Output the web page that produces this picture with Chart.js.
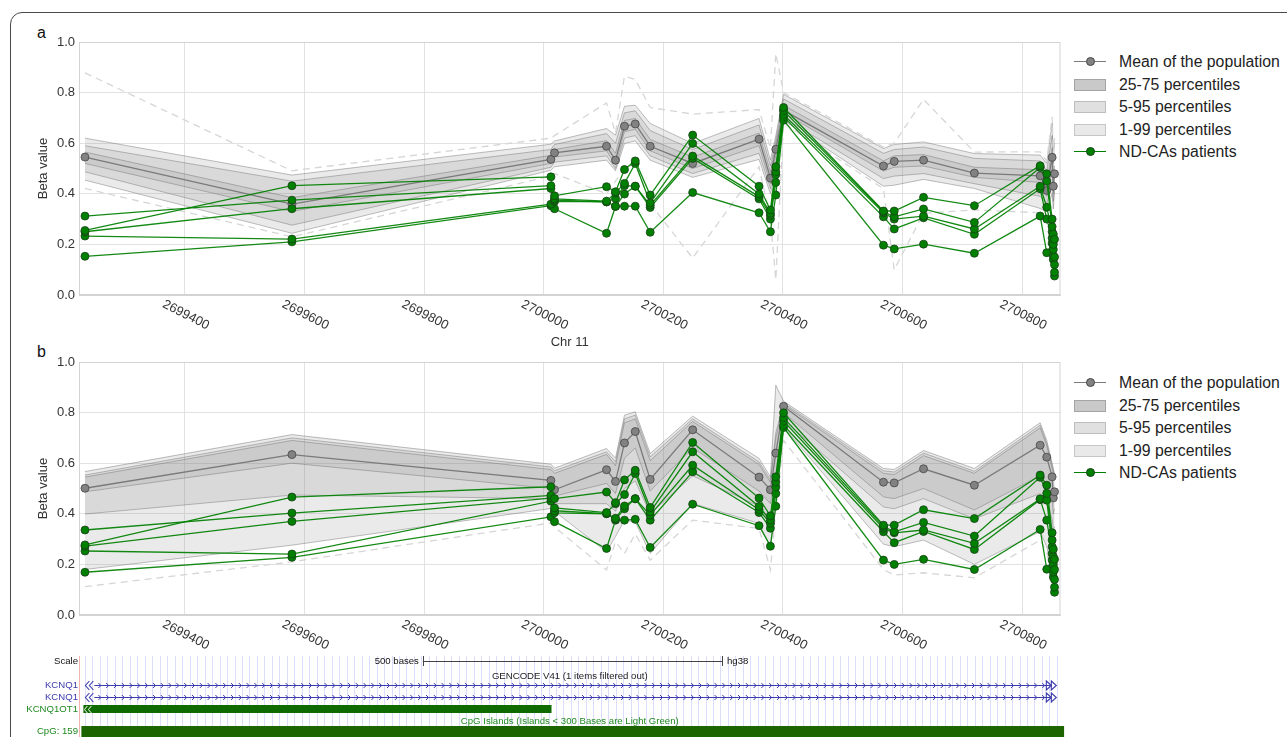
<!DOCTYPE html>
<html>
<head>
<meta charset="utf-8">
<title>KCNQ1OT1 methylation</title>
<script src="https://cdn.jsdelivr.net/npm/chart.js@4.4.1/dist/chart.umd.min.js"></script>
<style>
  body { margin: 0; background: #fff; font-family: "Liberation Sans", Arial, sans-serif; }
  #page { position: relative; width: 1287px; height: 737px; overflow: hidden; background: #fff; }
  .frame { position: absolute; left: 10px; top: 12px; width: 1400px; height: 800px;
           border: 1px solid #4a4a4a; border-radius: 12px; }
  .tag { position: absolute; left: 37px; font-size: 16px; line-height: 16px; color: #111; }
  canvas { position: absolute; left: 0; }
  .legend { position: absolute; left: 1074px; width: 213px; font-size: 15.8px; color: #222; }
  .row { position: absolute; left: 0; height: 22px; width: 213px; white-space: nowrap; }
  .row .lbl { position: absolute; left: 45px; top: 0; line-height: 22px; }
  .row .ln { position: absolute; left: 0; top: 10px; width: 32px; height: 0; border-top: 1.3px solid; }
  .row .dot { position: absolute; left: 12px; top: 6px; width: 7px; height: 7px; border-radius: 50%; border: 1px solid; }
  .row .box { position: absolute; left: 0; top: 5px; width: 30px; height: 10px; border: 1px solid; }
</style>
</head>
<body>
<div id="page">
  <div class="frame"></div>
  <div class="tag" style="top:25px">a</div>
  <div class="tag" style="top:344px">b</div>
  <canvas id="chartA" width="1066" height="320" style="top:30px"></canvas>
  <canvas id="chartB" width="1066" height="387" style="top:350px"></canvas>
  <div class="legend" id="legendA" style="top:51px"></div>
  <div class="legend" id="legendB" style="top:372px"></div>
</div>
<script>
// CpG positions on chromosome 11 (bp)
const cpgPos = [2699233, 2699579, 2700012, 2700018, 2700105, 2700120, 2700135, 2700153, 2700178, 2700249,
  2700360, 2700379, 2700388, 2700401, 2700568, 2700586, 2700635, 2700720, 2700830, 2700841,
  2700850, 2700852, 2700854];
const xTicks = [2699400, 2699600, 2699800, 2700000, 2700200, 2700400, 2700600, 2700800];
const xMin = 2699223;
const xMax = 2700864;

// panel a: population summary
const meanA = [0.545, 0.359, 0.536, 0.562, 0.588, 0.533, 0.667, 0.676, 0.588, 0.52, 0.616, 0.462, 0.576, 0.73, 0.51, 0.528, 0.533, 0.482, 0.471, 0.413, 0.544, 0.43, 0.479];
const p99A = [0.62, 0.474, 0.596, 0.609, 0.658, 0.632, 0.746, 0.75, 0.678, 0.599, 0.698, 0.533, 0.63, 0.793, 0.579, 0.595, 0.605, 0.559, 0.553, 0.52, 0.68, 0.55, 0.6];
const p95A = [0.59, 0.45, 0.575, 0.595, 0.638, 0.6, 0.72, 0.728, 0.65, 0.575, 0.672, 0.51, 0.612, 0.775, 0.56, 0.575, 0.585, 0.54, 0.53, 0.49, 0.63, 0.52, 0.56];
const p75A = [0.565, 0.385, 0.552, 0.575, 0.61, 0.56, 0.69, 0.698, 0.615, 0.545, 0.64, 0.485, 0.595, 0.75, 0.53, 0.55, 0.555, 0.505, 0.495, 0.44, 0.58, 0.46, 0.51];
const p25A = [0.52, 0.33, 0.52, 0.545, 0.57, 0.515, 0.645, 0.655, 0.57, 0.5, 0.59, 0.44, 0.55, 0.72, 0.49, 0.505, 0.51, 0.465, 0.445, 0.39, 0.5, 0.4, 0.45];
const p5A = [0.487, 0.276, 0.505, 0.525, 0.55, 0.5, 0.62, 0.63, 0.55, 0.48, 0.56, 0.42, 0.52, 0.70, 0.46, 0.47, 0.48, 0.44, 0.39, 0.36, 0.44, 0.37, 0.43];
const p1A = [0.454, 0.244, 0.493, 0.507, 0.533, 0.491, 0.599, 0.609, 0.533, 0.465, 0.536, 0.4, 0.49, 0.69, 0.43, 0.434, 0.457, 0.421, 0.342, 0.33, 0.4, 0.34, 0.41];
const maxA = [0.878, 0.491, 0.62, 0.63, 0.759, 0.64, 0.865, 0.852, 0.741, 0.715, 0.733, 0.58, 0.955, 0.8, 0.585, 0.6, 0.773, 0.565, 0.566, 0.53, 0.704, 0.56, 0.62];
const minA = [0.421, 0.23, 0.47, 0.48, 0.40, 0.45, 0.5, 0.52, 0.36, 0.146, 0.507, 0.3, 0.06, 0.68, 0.42, 0.1, 0.323, 0.336, 0.325, 0.3, 0.25, 0.2, 0.3];

// panel a: ND-CAs patients
const patA1 = [0.255, 0.432, 0.467, 0.392, 0.428, 0.408, 0.496, 0.53, 0.395, 0.632, 0.43, 0.336, 0.507, 0.741, 0.332, 0.332, 0.386, 0.353, 0.511, 0.479, 0.3, 0.24, 0.22];
const patA2 = [0.312, 0.375, 0.432, 0.38, 0.371, 0.404, 0.441, 0.52, 0.364, 0.599, 0.399, 0.323, 0.487, 0.728, 0.33, 0.309, 0.34, 0.287, 0.504, 0.45, 0.27, 0.2, 0.15];
const patA3 = [0.25, 0.341, 0.421, 0.375, 0.368, 0.382, 0.432, 0.43, 0.355, 0.549, 0.389, 0.315, 0.476, 0.713, 0.325, 0.3, 0.312, 0.261, 0.43, 0.347, 0.25, 0.18, 0.12];
const patA4 = [0.233, 0.221, 0.359, 0.37, 0.368, 0.351, 0.399, 0.43, 0.346, 0.54, 0.38, 0.30, 0.445, 0.704, 0.309, 0.261, 0.305, 0.24, 0.42, 0.3, 0.225, 0.155, 0.09];
const patA5 = [0.153, 0.21, 0.353, 0.341, 0.244, 0.35, 0.351, 0.351, 0.248, 0.405, 0.325, 0.25, 0.395, 0.691, 0.197, 0.182, 0.201, 0.165, 0.312, 0.167, 0.205, 0.14, 0.075];

// panel b: population summary
const meanB = [0.501, 0.634, 0.532, 0.495, 0.574, 0.528, 0.68, 0.725, 0.536, 0.732, 0.545, 0.495, 0.64, 0.825, 0.525, 0.522, 0.578, 0.513, 0.671, 0.624, 0.546, 0.463, 0.487];
const p99B = [0.567, 0.713, 0.596, 0.58, 0.658, 0.62, 0.79, 0.803, 0.638, 0.786, 0.619, 0.546, 0.908, 0.845, 0.579, 0.575, 0.65, 0.579, 0.76, 0.69, 0.6, 0.58, 0.56];
const p95B = [0.553, 0.70, 0.585, 0.57, 0.645, 0.605, 0.775, 0.79, 0.625, 0.775, 0.605, 0.535, 0.72, 0.838, 0.57, 0.565, 0.64, 0.568, 0.75, 0.68, 0.59, 0.57, 0.55];
const p75B = [0.545, 0.69, 0.575, 0.56, 0.635, 0.59, 0.76, 0.775, 0.61, 0.765, 0.595, 0.525, 0.70, 0.832, 0.56, 0.555, 0.63, 0.56, 0.74, 0.67, 0.58, 0.56, 0.54];
const p25B = [0.487, 0.60, 0.50, 0.47, 0.52, 0.48, 0.62, 0.66, 0.49, 0.66, 0.49, 0.44, 0.55, 0.80, 0.467, 0.46, 0.50, 0.415, 0.55, 0.50, 0.45, 0.40, 0.42];
const p5B = [0.399, 0.474, 0.46, 0.44, 0.44, 0.41, 0.50, 0.53, 0.40, 0.55, 0.43, 0.36, 0.50, 0.77, 0.427, 0.42, 0.46, 0.38, 0.48, 0.44, 0.38, 0.33, 0.35];
const p1B = [0.18, 0.276, 0.421, 0.41, 0.25, 0.31, 0.375, 0.368, 0.243, 0.441, 0.362, 0.27, 0.454, 0.743, 0.28, 0.27, 0.296, 0.20, 0.33, 0.27, 0.17, 0.15, 0.15];
const minB = [0.112, 0.21, 0.364, 0.348, 0.178, 0.29, 0.243, 0.32, 0.217, 0.375, 0.342, 0.178, 0.42, 0.69, 0.18, 0.158, 0.167, 0.147, 0.296, 0.25, 0.14, 0.12, 0.12];

// panel b: ND-CAs patients
const patB1 = [0.277, 0.466, 0.507, 0.46, 0.486, 0.444, 0.534, 0.572, 0.425, 0.682, 0.462, 0.392, 0.546, 0.799, 0.355, 0.355, 0.416, 0.381, 0.553, 0.513, 0.325, 0.26, 0.22];
const patB2 = [0.336, 0.403, 0.473, 0.423, 0.405, 0.44, 0.476, 0.559, 0.408, 0.645, 0.429, 0.375, 0.526, 0.78, 0.35, 0.329, 0.366, 0.312, 0.544, 0.481, 0.296, 0.23, 0.18];
const patB3 = [0.272, 0.37, 0.462, 0.412, 0.401, 0.382, 0.431, 0.459, 0.395, 0.592, 0.416, 0.362, 0.506, 0.767, 0.342, 0.325, 0.336, 0.283, 0.459, 0.454, 0.27, 0.2, 0.14];
const patB4 = [0.253, 0.241, 0.45, 0.404, 0.40, 0.378, 0.42, 0.46, 0.375, 0.566, 0.405, 0.343, 0.48, 0.75, 0.329, 0.286, 0.33, 0.259, 0.456, 0.375, 0.243, 0.17, 0.11];
const patB5 = [0.169, 0.228, 0.388, 0.369, 0.263, 0.375, 0.375, 0.378, 0.267, 0.438, 0.353, 0.272, 0.43, 0.741, 0.217, 0.2, 0.22, 0.18, 0.338, 0.181, 0.217, 0.15, 0.09];

// genome browser tracks (bp)
const viewStart = 2699227;
const viewEnd = 2700867;
const scaleBar = [2699798, 2700298];
const kcnq1Span = [2699232, 2700857];
const kcnq1ot1Span = [2699246, 2700013];
const cpgIslandSpan = [2699227, 2700870];

const legendNames = ['Mean of the population', '25-75 percentiles', '5-95 percentiles', '1-99 percentiles', 'ND-CAs patients'];

const family = '"Liberation Sans", Arial, sans-serif';

const pts = vals => cpgPos.map((p, i) => ({x: p, y: vals[i]}));

function buildDatasets(s) {
  const ds = [];
  s.patients.forEach(v => ds.push({
    data: pts(v), borderColor: 'rgba(0,128,0,0.92)', borderWidth: 1.3,
    pointRadius: 4, pointBackgroundColor: '#008000', pointBorderColor: '#1c3f1c', pointBorderWidth: 0.8
  }));
  ds.push({
    data: pts(s.mean), borderColor: '#7a7a7a', borderWidth: 1.3,
    pointRadius: 4, pointBackgroundColor: '#828282', pointBorderColor: '#454545', pointBorderWidth: 0.8
  });
  if (s.max) ds.push({data: pts(s.max), borderColor: '#d6d6d6', borderDash: [7, 5], borderWidth: 1.3, pointRadius: 0});
  ds.push({data: pts(s.min), borderColor: '#d6d6d6', borderDash: [7, 5], borderWidth: 1.3, pointRadius: 0});
  // percentile envelopes, narrowest first so it ends up on top
  [[s.p75, s.p25], [s.p95, s.p5], [s.p99, s.p1]].forEach(([hi, lo]) => {
    ds.push({data: pts(hi), borderColor: 'rgba(110,110,110,0.45)', borderWidth: 1, pointRadius: 0,
             fill: '+1', backgroundColor: 'rgba(128,128,128,0.17)'});
    ds.push({data: pts(lo), borderColor: 'rgba(110,110,110,0.45)', borderWidth: 1, pointRadius: 0, fill: false});
  });
  return ds;
}

const plotFrame = {
  id: 'plotFrame',
  beforeDatasetsDraw(chart) {
    const {ctx, chartArea: a} = chart;
    ctx.save();
    ctx.strokeStyle = '#d3d3d3';
    ctx.lineWidth = 1;
    ctx.strokeRect(a.left + 0.5, a.top + 0.5, a.right - a.left - 1, a.bottom - a.top - 1);
    ctx.restore();
  }
};

// rotated position labels under the x axis
const tickLabels = {
  id: 'tickLabels',
  afterDraw(chart) {
    const {ctx, chartArea, scales: {x}} = chart;
    ctx.save();
    ctx.fillStyle = '#333';
    ctx.font = `13px ${family}`;
    ctx.textAlign = 'center';
    ctx.textBaseline = 'middle';
    xTicks.forEach(v => {
      ctx.save();
      ctx.translate(x.getPixelForValue(v) + 1, chartArea.bottom + 20);
      ctx.rotate(27 * Math.PI / 180);
      ctx.fillText(String(v), 0, 0);
      ctx.restore();
    });
    ctx.restore();
  }
};

// UCSC-style tracks drawn on the same genomic scale below panel b
const genomeTracks = {
  id: 'genomeTracks',
  afterDraw(chart) {
    const {ctx, chartArea, scales: {x}} = chart;
    const px = p => x.getPixelForValue(p);
    const base = chartArea.bottom;
    const top = base + 41, bottom = chart.height;
    ctx.save();

    // base-position guides
    ctx.strokeStyle = 'rgba(205,205,250,0.7)';
    ctx.lineWidth = 1;
    for (let p = viewStart + 6; p < viewEnd; p += 12.5) {
      const gx = Math.round(px(p)) + 0.5;
      ctx.beginPath(); ctx.moveTo(gx, top); ctx.lineTo(gx, bottom); ctx.stroke();
    }
    ctx.strokeStyle = '#f2b3b3';
    ctx.beginPath(); ctx.moveTo(Math.round(px(viewStart)) - 1.5, top); ctx.lineTo(Math.round(px(viewStart)) - 1.5, bottom); ctx.stroke();

    ctx.font = `9.6px ${family}`;
    ctx.textBaseline = 'middle';

    // scale bar
    const sy = base + 46;
    ctx.fillStyle = '#111';
    ctx.textAlign = 'right';
    ctx.fillText('Scale', 78, sy);
    const s0 = px(scaleBar[0]), s1 = px(scaleBar[1]);
    ctx.fillText('500 bases', s0 - 4, sy);
    ctx.textAlign = 'left';
    ctx.fillText('hg38', s1 + 5, sy);
    ctx.strokeStyle = '#444';
    ctx.beginPath();
    ctx.moveTo(s0, sy + 0.5); ctx.lineTo(s1, sy + 0.5);
    ctx.moveTo(Math.round(s0) + 0.5, sy - 5); ctx.lineTo(Math.round(s0) + 0.5, sy + 5);
    ctx.moveTo(Math.round(s1) + 0.5, sy - 5); ctx.lineTo(Math.round(s1) + 0.5, sy + 5);
    ctx.stroke();

    const mid = (chartArea.left + chartArea.right) / 2;
    ctx.textAlign = 'center';
    ctx.fillStyle = '#222';
    ctx.fillText('GENCODE V41 (1 items filtered out)', mid, base + 61);

    // KCNQ1 transcripts
    const blue = '#3b3bae';
    [base + 70, base + 82].forEach(y => {
      ctx.fillStyle = blue;
      ctx.textAlign = 'right';
      ctx.fillText('KCNQ1', 78, y);
      const k0 = px(kcnq1Span[0]), k1 = px(kcnq1Span[1]);
      ctx.strokeStyle = blue;
      ctx.lineWidth = 1;
      ctx.beginPath(); ctx.moveTo(k0 + 10, y + 0.5); ctx.lineTo(k1 - 6, y + 0.5); ctx.stroke();
      ctx.beginPath();
      for (let cx = k0 + 16; cx < k1 - 10; cx += 7.8) {
        ctx.moveTo(cx - 2, y - 2); ctx.lineTo(cx + 0.5, y + 0.5); ctx.lineTo(cx - 2, y + 3);
      }
      ctx.stroke();
      ctx.lineWidth = 1.1;
      [k0 + 1, k0 + 5].forEach(ax => {
        ctx.beginPath(); ctx.moveTo(ax + 4, y - 4); ctx.lineTo(ax, y + 0.5); ctx.lineTo(ax + 4, y + 5); ctx.stroke();
      });
      [k1 - 10, k1 - 5].forEach(ax => {
        ctx.beginPath(); ctx.moveTo(ax, y - 4); ctx.lineTo(ax + 5, y + 0.5); ctx.lineTo(ax, y + 5); ctx.closePath(); ctx.stroke();
      });
    });

    // KCNQ1OT1
    const green = '#0f6b00';
    const oy = base + 94;
    ctx.fillStyle = '#1f8a1f';
    ctx.textAlign = 'right';
    ctx.fillText('KCNQ1OT1', 78, oy);
    ctx.fillStyle = green;
    ctx.fillRect(px(kcnq1ot1Span[0]), oy - 4, px(kcnq1ot1Span[1]) - px(kcnq1ot1Span[0]), 8);
    ctx.fillRect(px(viewStart) + 2, oy - 4, 10, 8);
    ctx.strokeStyle = '#fff';
    ctx.lineWidth = 1;
    [px(viewStart) + 3, px(viewStart) + 7].forEach(ax => {
      ctx.beginPath(); ctx.moveTo(ax + 3, oy - 3); ctx.lineTo(ax, oy + 0.5); ctx.lineTo(ax + 3, oy + 4); ctx.stroke();
    });

    // CpG islands
    ctx.fillStyle = '#1f8a1f';
    ctx.textAlign = 'center';
    ctx.fillText('CpG Islands (Islands < 300 Bases are Light Green)', mid, base + 106);
    ctx.textAlign = 'right';
    ctx.fillText('CpG: 159', 78, base + 116);
    ctx.fillStyle = '#1b6400';
    ctx.fillRect(px(cpgIslandSpan[0]), base + 111, px(cpgIslandSpan[1]) - px(cpgIslandSpan[0]), 14);
    ctx.restore();
  }
};

function makeChart(id, s, axisH, xTitle, extra) {
  return new Chart(document.getElementById(id), {
    type: 'line',
    data: {datasets: buildDatasets(s)},
    options: {
      responsive: false,
      animation: false,
      events: [],
      layout: {padding: {top: 12, right: 5.5, left: 0, bottom: 0}},
      elements: {line: {tension: 0}},
      plugins: {legend: {display: false}, tooltip: {enabled: false}},
      scales: {
        x: {
          type: 'linear', min: xMin, max: xMax,
          afterBuildTicks: sc => { sc.ticks = xTicks.map(v => ({value: v})); },
          afterFit: sc => { sc.height = axisH; },
          ticks: {display: false},
          grid: {color: '#e2e2e2', drawTicks: false},
          border: {color: '#d3d3d3'},
          title: {display: !!xTitle, text: xTitle || '', color: '#333', font: {size: 13, family}, padding: 0}
        },
        y: {
          min: 0, max: 1,
          afterFit: sc => { sc.width = 79; },
          ticks: {stepSize: 0.2, padding: 4, color: '#333', font: {size: 13, family}, callback: v => v.toFixed(1)},
          grid: {color: '#e2e2e2', drawTicks: false},
          border: {color: '#d3d3d3'},
          title: {display: true, text: 'Beta value', color: '#333', font: {size: 13, family}, padding: {top: 36, bottom: 0}}
        }
      }
    },
    plugins: [plotFrame, tickLabels].concat(extra || [])
  });
}

makeChart('chartA', {
  patients: [patA1, patA2, patA3, patA4, patA5], mean: meanA, max: maxA, min: minA,
  p99: p99A, p95: p95A, p75: p75A, p25: p25A, p5: p5A, p1: p1A
}, 55, 'Chr 11');

makeChart('chartB', {
  patients: [patB1, patB2, patB3, patB4, patB5], mean: meanB, min: minB,
  p99: p99B, p95: p95B, p75: p75B, p25: p25B, p5: p5B, p1: p1B
}, 122, null, [genomeTracks]);

// legends
const swatches = [
  {kind: 'line', line: '#7a7a7a', dot: '#828282', edge: '#454545'},
  {kind: 'box', fill: '#c9c9c9', edge: '#a4a4a4'},
  {kind: 'box', fill: '#e0e0e0', edge: '#bdbdbd'},
  {kind: 'box', fill: '#e9e9e9', edge: '#c6c6c6'},
  {kind: 'line', line: '#008000', dot: '#008000', edge: '#1c3f1c'}
];
['legendA', 'legendB'].forEach(id => {
  const host = document.getElementById(id);
  legendNames.forEach((name, i) => {
    const sw = swatches[i];
    const row = document.createElement('div');
    row.className = 'row';
    row.style.top = (i * 22.5) + 'px';
    if (sw.kind === 'line') {
      row.innerHTML = `<div class="ln" style="border-color:${sw.line}"></div>` +
        `<div class="dot" style="background:${sw.dot};border-color:${sw.edge}"></div>`;
    } else {
      row.innerHTML = `<div class="box" style="background:${sw.fill};border-color:${sw.edge}"></div>`;
    }
    const lbl = document.createElement('span');
    lbl.className = 'lbl';
    lbl.textContent = name;
    row.appendChild(lbl);
    host.appendChild(row);
  });
});
</script>
</body>
</html>
